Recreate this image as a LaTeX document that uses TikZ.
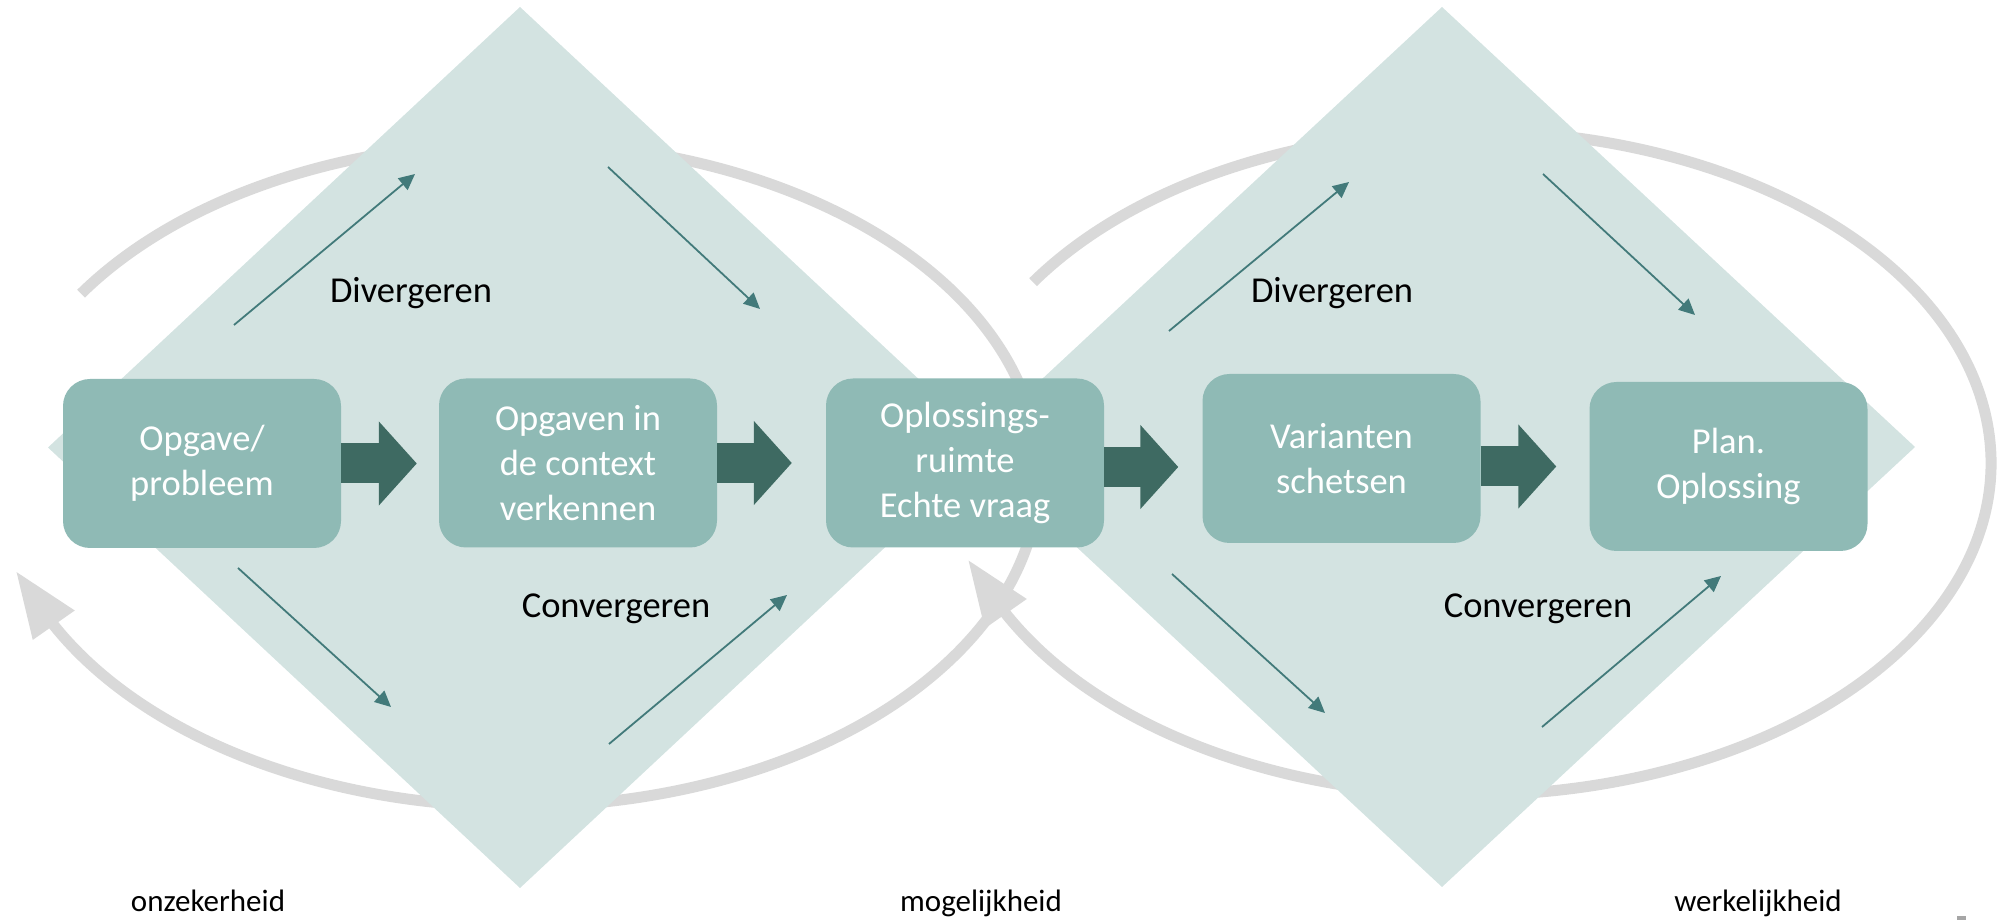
\documentclass[tikz,border=0pt]{standalone}
\usepackage{fontspec}
\setmainfont{Carlito}
\usetikzlibrary{arrows.meta,positioning}

\definecolor{ruitgroen}{HTML}{D3E3E1}
\definecolor{stapgroen}{HTML}{8FBAB5}
\definecolor{pijlgroen}{HTML}{3E6A62}
\definecolor{lijngroen}{HTML}{427A7A}
\definecolor{cyclusgrijs}{HTML}{D9D9D9}

\tikzset{
  stap/.style={fill=stapgroen, rounded corners=27pt, minimum width=278pt,
    minimum height=169pt, inner sep=0pt, align=center, text=white,
    font=\fontsize{36.5}{45}\selectfont},
  fasetekst/.style={anchor=base, font=\fontsize{36.5}{45}\selectfont},
  astekst/.style={anchor=base, font=\fontsize{31}{38}\selectfont},
  pijl/.style={pijlgroen, line width=40pt, -{Triangle[length=38pt,width=82pt]}},
  dunnepijl/.style={lijngroen, line width=1.8pt, -{Triangle[length=16pt,width=15pt]}},
  cyclus/.style={cyclusgrijs, line width=11pt, -{Triangle[length=66pt,width=48pt]}},
}

\begin{document}
\begin{tikzpicture}[x=1pt,y=1pt]
\useasboundingbox (0,0) rectangle (1997,920);

% cycli
\coordinate (c1) at (518,445.5);
\coordinate (c2) at (1470,457);
\draw[cyclus] (c1) ++(147:521 and 332) arc[start angle=147, end angle=-153, x radius=521, y radius=332] -- ++(125:66);
\draw[cyclus] (c2) ++(147:521 and 332) arc[start angle=147, end angle=-153, x radius=521, y radius=332] -- ++(125:66);

% ruiten
\fill[ruitgroen] (520,913) -- (992,472.5) -- (520,32) -- (48,472.5) -- cycle;
\fill[ruitgroen] (1442,913) -- (1915,473) -- (1442,33) -- (969,473) -- cycle;

% divergeren / convergeren
\draw[dunnepijl] (234,595) -- (415,746);
\draw[dunnepijl] (608,753) -- (760,611);
\draw[dunnepijl] (238,352) -- (391,213);
\draw[dunnepijl] (609,176) -- (787,325);

\draw[dunnepijl] (1169,589) -- (1349,738);
\draw[dunnepijl] (1543,746) -- (1695,605);
\draw[dunnepijl] (1172,346) -- (1325,207);
\draw[dunnepijl] (1542,193) -- (1721,344);

\node[fasetekst] (div1) at (411,617) {Divergeren};
\node[fasetekst] (div2) at (1332,617) {Divergeren};
\node[fasetekst] (con1) at (616,302) {Convergeren};
\node[fasetekst] (con2) at (1538,302) {Convergeren};

% stappen
\node[stap] (b1) at (202,456.5) {Opgave/\\probleem};
\node[stap] (b2) at (578,457) {Opgaven in\\de context\\verkennen};
\node[stap] (b3) at (965,457) {Oplossings-\\ruimte\\Echte vraag};
\node[stap] (b4) at (1341.5,461.5) {Varianten\\schetsen};
\node[stap] (b5) at (1728.5,453.5) {Plan.\\Oplossing};

\draw[pijl, shorten >=22pt] (b1.east) -- (b1.east -| b2.west);
\draw[pijl, shorten >=34pt] (b2.east) -- (b2.east -| b3.west);
\draw[pijl, shorten >=24pt] ([yshift=-4pt]b3.east) -- ([yshift=-4pt]b3.east -| b4.west);
\draw[pijl, shorten >=33pt] ([yshift=-8pt]b4.east) -- ([yshift=-8pt]b4.east -| b5.west);

% as
\node[astekst] (onz) at (208,8) {onzekerheid};
\node[astekst] (mog) at (981,8) {mogelijkheid};
\node[astekst] (wer) at (1758,8) {werkelijkheid};

\fill[gray!70] (1957,0) rectangle (1966,4);

\end{tikzpicture}
\end{document}
